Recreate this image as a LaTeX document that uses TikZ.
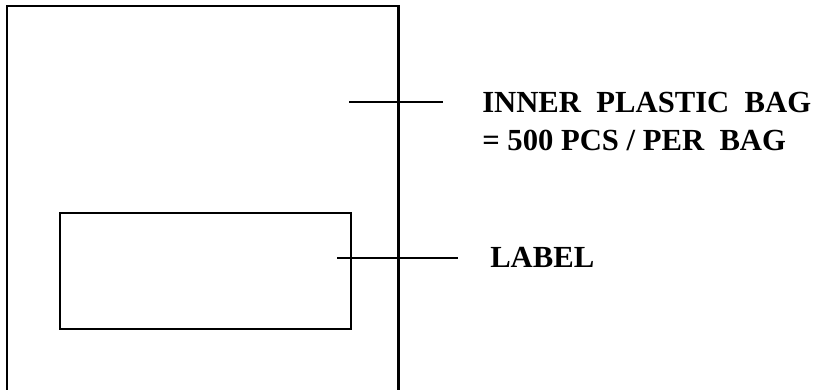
\documentclass[tikz,border=0pt]{standalone}
\usepackage{fontspec}
\setmainfont{Liberation Serif}
\usetikzlibrary{positioning}
\tikzset{
  contorno/.style={draw=black, line width=1.7pt},
  caixa/.style={draw=black, line width=1.5pt, fill=none, inner sep=0pt},
  linha/.style={draw=black, line width=1.1pt},
  rotulo/.style={font=\fontsize{23}{28}\selectfont\bfseries, inner sep=0pt, align=left},
}
\begin{document}
\begin{tikzpicture}[x=0.75pt, y=-0.75pt]
  \useasboundingbox (0,0) rectangle (816,389);

  % Saco plastico (aberto embaixo)
  \draw[contorno] (7,395) |- (398.5,6) -- (398.5,395);

  % Etiqueta
  \node[caixa, minimum width=218.5pt, minimum height=87pt] (etiq) at (205.5,271) {};

  % Rotulos
  \node[rotulo, anchor=base west] (txtsaco) at (482,150)
    {INNER\ \ PLASTIC\ \ BAG\\= 500 PCS / PER\ \ BAG};
  \node[rotulo, anchor=base west] (txtetiq) at (490,267.5) {LABEL};

  % Linhas de chamada
  \coordinate (s1) at (349,102);
  \coordinate (s2) at (443,102);
  \coordinate (e1) at (337,258);
  \coordinate (e2) at (458,258);
  \draw[linha] (s1) -- (s2);
  \draw[linha] (e1) -- (e2);
\end{tikzpicture}
\end{document}
